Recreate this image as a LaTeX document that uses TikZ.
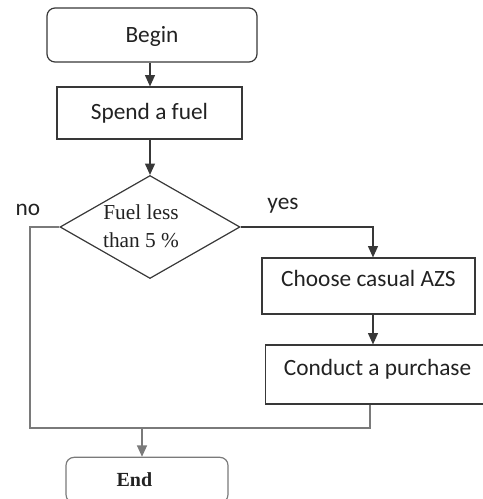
\documentclass[tikz,border=0pt]{standalone}
\usepackage{fontspec}
\setmainfont{Liberation Serif}
\setsansfont{Carlito}
\usetikzlibrary{positioning, arrows.meta, shapes.geometric}
\definecolor{clrborder}{HTML}{383838}
\definecolor{clrline}{HTML}{7A7A7A}
\definecolor{clrtext}{HTML}{222222}

\begin{document}
\begin{tikzpicture}[
    x=0.75pt, y=-0.75pt,
    >={Triangle[length=8.5pt, width=7.5pt]},
    every node/.style={font=\sffamily, text=clrtext},
    block/.style={draw=clrborder, line width=0.9pt, inner sep=0pt,
                  font=\sffamily\fontsize{17.5}{20}\selectfont},
    startstop/.style={block, rounded corners=6pt},
    decision/.style={draw=clrborder, diamond, line width=0.9pt, inner sep=0pt},
    decisiontext/.style={align=center, font=\rmfamily\fontsize{16}{21}\selectfont},
    arrow/.style={->, color=clrborder, line width=0.9pt},
    branch/.style={color=clrline, line width=0.9pt},
    label/.style={font=\sffamily\fontsize{17.5}{20}\selectfont},
]
\useasboundingbox (0,0) rectangle (482,499);
\node[startstop, minimum width=157.5pt, minimum height=40.5pt, text height=15pt, text depth=3pt] (n_1) at (152,35) {Begin};
\node[block, minimum width=138.75pt, minimum height=39pt] (n_2) at (149.5,113) {Spend a fuel};
\node[decision, minimum width=135pt, minimum height=77.25pt] (n_3) at (150,227) {};
\node[decisiontext] (n_3_text) at (141,226) {Fuel less\\than 5 \%};
\node[block, minimum width=159.75pt, minimum height=42pt, text height=12pt, text depth=11pt] (n_4) at (368.5,286) {Choose casual AZS};
\node[block, minimum width=168pt, minimum height=44.25pt, text height=12pt, text depth=11pt, anchor=west] (n_5) at (265,374.5) {Conduct a purchase};
\node[startstop, draw=clrline, minimum width=121.5pt, minimum height=34pt, font=\rmfamily\bfseries\fontsize{15}{17}\selectfont] (n_6) at (147,480) {End\hspace*{19pt}};
\node[label, anchor=base] (l_no) at (28,215) {no};
\node[label, anchor=base] (l_yes) at (283,209) {yes};
\coordinate (c_no) at (30,227);
\coordinate (c_yes) at (373,227);
\coordinate (c_merge_l) at (30,428);
\coordinate (c_merge_r) at (370,428);
\coordinate (c_end) at (142,428);
\draw[arrow] (n_1.south -| 150,0) -- (n_2.north -| 150,0);
\draw[arrow] (n_2.south -| 150,0) -- (n_3.north);
\draw[branch] (n_3.west) -- (c_no) -- (c_merge_l) -- (c_merge_r) -- (c_merge_r |- n_5.south);
\draw[arrow] (n_3.east) -- (c_yes) -- (c_yes |- n_4.north);
\draw[arrow] (c_yes |- n_4.south) -- (c_yes |- n_5.north);
\draw[arrow, color=clrline] (c_end) -- (c_end |- n_6.north);
\end{tikzpicture}
\end{document}
